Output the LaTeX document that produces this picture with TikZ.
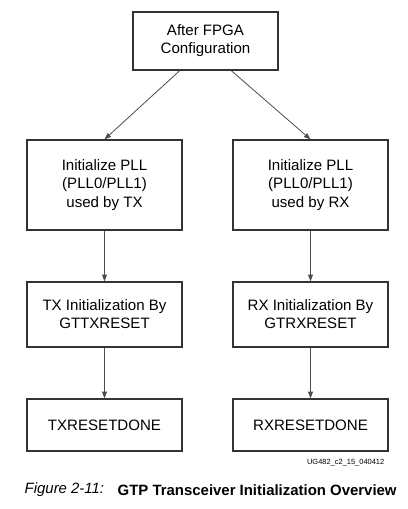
\documentclass[tikz,border=0pt]{standalone}
\usepackage{fontspec}
\setmainfont{Liberation Sans}
\usetikzlibrary{arrows.meta}

\begin{document}
\begin{tikzpicture}[
    x=0.75pt, y=-0.75pt,
    box/.style={draw=black!80, line width=0.9pt, align=center, inner sep=0pt,
        font=\fontsize{11.3}{13.6}\selectfont},
    wide/.style={box, minimum width=116.25pt},
    flow/.style={-{Triangle[length=5pt, width=3.6pt]}, draw=black!70, line width=0.6pt}
]
    \useasboundingbox (0,0) rectangle (407,509);

    % Start: configuration done
    \node[box, minimum width=108.75pt, minimum height=43.5pt] (cfg) at (205.5, 41) {After FPGA\\Configuration};

    % TX branch
    \node[wide, minimum height=67.5pt] (txpll) at (104.5, 185) {Initialize PLL\\(PLL0/PLL1)\\used by TX};
    \node[wide, minimum height=48.75pt] (txinit) at (104.5, 314.5) {TX Initialization By\\GTTXRESET};
    \node[wide, minimum height=39pt] (txdone) at (104.5, 425) {TXRESETDONE};

    % RX branch
    \node[wide, minimum height=67.5pt] (rxpll) at (310.5, 185) {Initialize PLL\\(PLL0/PLL1)\\used by RX};
    \node[wide, minimum height=48.75pt] (rxinit) at (310.5, 314.5) {RX Initialization By\\GTRXRESET};
    \node[wide, minimum height=39pt] (rxdone) at (310.5, 425) {RXRESETDONE};

    % Connectors
    \draw[flow] (cfg.229) -- (txpll.north);
    \draw[flow] (cfg.311) -- (rxpll.north);
    \draw[flow] (txpll) -- (txinit);
    \draw[flow] (txinit) -- (txdone);
    \draw[flow] (rxpll) -- (rxinit);
    \draw[flow] (rxinit) -- (rxdone);

    % Figure caption
    \node[font=\fontsize{5.6}{7}\selectfont, anchor=east] (figid) at (389, 463) {UG482\_c2\_15\_040412};
    \node[font=\fontsize{11.2}{13}\selectfont\itshape, anchor=west] (fignum) at (20, 490) {Figure 2-11:};
    \node[font=\fontsize{11.2}{13}\selectfont\bfseries, anchor=west] (figtitle) at (113, 490) {GTP Transceiver Initialization Overview};
\end{tikzpicture}
\end{document}
